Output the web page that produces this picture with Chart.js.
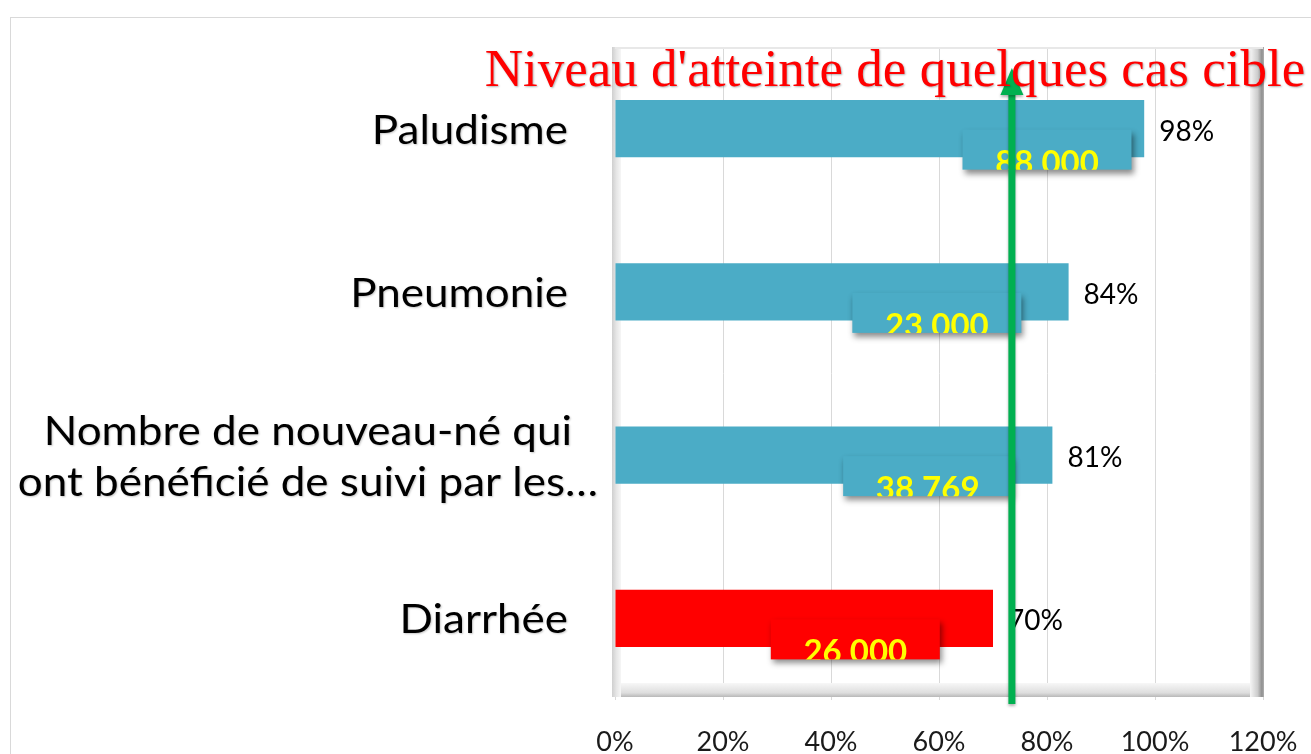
<!DOCTYPE html>
<html>
<head>
<meta charset="utf-8">
<script src="https://cdn.jsdelivr.net/npm/chart.js@4.4.1/dist/chart.umd.min.js"></script>
<style>
    html, body { margin: 0; padding: 0; background: #ffffff; }
    #wrap { width: 1311px; height: 754px; position: relative; }
</style>
</head>
<body>
<div id="wrap"><canvas id="casChart"></canvas></div>
<script>
    // Data
    const categories = [
        'Paludisme',
        'Pneumonie',
        ['Nombre de nouveau-né qui', 'ont bénéficié de suivi par les…'],
        'Diarrhée'
    ];
    const tauxAtteinte = [98, 84, 81, 70];
    const casAtteints = [88000, 23000, 38769, 26000];
    const niveauCible = 73.5;
    const axisMax = 120;
    const axisStep = 20;
    const chartTitle = "Niveau d'atteinte de quelques cas cible";

    const BLUE = '#4BACC6';
    const RED = '#FF0000';
    const GREEN = '#00B050';

    // where the count boxes sit, in axis units (box centre)
    const boxCentres = [80, 59.6, 57.9, 44.5];

    function fmtNombre(n) {
        return String(n).replace(/\B(?=(\d{3})+(?!\d))/g, ' ');
    }

    const decorPlugin = {
        id: 'decor',
        beforeDraw(chart) {
            const ctx = chart.ctx;
            ctx.save();
            ctx.fillStyle = '#ffffff';
            ctx.fillRect(0, 0, chart.width, chart.height);
            // card border
            ctx.strokeStyle = '#d9d9d9';
            ctx.lineWidth = 1;
            ctx.strokeRect(10.5, 17.5, chart.width + 20, chart.height + 20);
            ctx.restore();
        },
        beforeDatasetsDraw(chart) {
            const ctx = chart.ctx;
            const ca = chart.chartArea;
            const fb = ca.bottom - 3;
            ctx.save();
            // floor
            let g = ctx.createLinearGradient(0, fb - 14, 0, fb);
            g.addColorStop(0, '#f7f7f7');
            g.addColorStop(0.7, '#dedede');
            g.addColorStop(1, '#b8b8b8');
            ctx.fillStyle = g;
            ctx.fillRect(ca.left, fb - 14, ca.right - ca.left, 14);
            // left wall
            g = ctx.createLinearGradient(ca.left - 3, 0, ca.left + 6, 0);
            g.addColorStop(0, '#cfcfcf');
            g.addColorStop(0.5, '#e6e6e6');
            g.addColorStop(1, '#f6f6f6');
            ctx.fillStyle = g;
            ctx.fillRect(ca.left - 3, ca.top, 9, fb - ca.top);
            // right wall
            g = ctx.createLinearGradient(ca.right - 13, 0, ca.right + 1, 0);
            g.addColorStop(0, '#f6f6f6');
            g.addColorStop(0.55, '#cccccc');
            g.addColorStop(0.85, '#8f8f8f');
            g.addColorStop(1, '#b0b0b0');
            ctx.fillStyle = g;
            ctx.fillRect(ca.right - 13, ca.top, 14, fb - ca.top);
            // top edge
            ctx.fillStyle = '#e8e8e8';
            ctx.fillRect(ca.left, ca.top, ca.right - ca.left, 2);
            ctx.restore();
        },
        afterDatasetsDraw(chart) {
            const ctx = chart.ctx;
            const xScale = chart.scales.x;
            const meta = chart.getDatasetMeta(0);
            ctx.save();
            meta.data.forEach(function(bar, i) {
                // percentage label
                ctx.fillStyle = '#000000';
                ctx.font = '28px Lato';
                ctx.textAlign = 'left';
                ctx.textBaseline = 'middle';
                ctx.fillText(tauxAtteinte[i] + '%', bar.x + 15, bar.y + 3);

                // count box
                const cx = xScale.getPixelForValue(boxCentres[i]);
                const w = 169, h = 40;
                const bx = cx - w / 2, by = bar.y + 1;
                ctx.save();
                ctx.shadowColor = 'rgba(0,0,0,0.45)';
                ctx.shadowBlur = 6;
                ctx.shadowOffsetX = 2;
                ctx.shadowOffsetY = 4;
                ctx.fillStyle = tauxAtteinte[i] < niveauCible ? RED : BLUE;
                ctx.fillRect(bx, by, w, h);
                ctx.restore();

                ctx.save();
                ctx.beginPath();
                ctx.rect(bx, by, w, h);
                ctx.clip();
                ctx.fillStyle = '#FFFF00';
                ctx.font = 'bold 33px Lato';
                ctx.textAlign = 'center';
                ctx.textBaseline = 'alphabetic';
                ctx.fillText(fmtNombre(casAtteints[i]), cx, by + h + 4);
                ctx.restore();
            });
            ctx.restore();
        },
        afterDraw(chart) {
            const ctx = chart.ctx;
            const ca = chart.chartArea;
            const yScale = chart.scales.y;

            // category labels: single lines right-aligned, wrapped ones centred as a block
            // (text is slightly widened like the original)
            const sx = 1.1;
            ctx.save();
            ctx.shadowColor = 'rgba(0,0,0,0.22)';
            ctx.shadowBlur = 2;
            ctx.shadowOffsetX = 1;
            ctx.shadowOffsetY = 1;
            ctx.fillStyle = '#000000';
            ctx.font = '40px Lato';
            ctx.textBaseline = 'middle';
            const lineH = 51;
            const rightEdge = ca.left - 47;
            categories.forEach(function(lab, i) {
                const y = yScale.getPixelForTick(i);
                const lines = Array.isArray(lab) ? lab : [lab];
                if (lines.length === 1) {
                    ctx.save();
                    ctx.translate(rightEdge, y + 2);
                    ctx.scale(sx, 1);
                    ctx.textAlign = 'right';
                    ctx.fillText(lines[0], 0, 0);
                    ctx.restore();
                } else {
                    const widths = lines.map(l => ctx.measureText(l).width * sx);
                    const blockW = Math.max.apply(null, widths);
                    const centre = rightEdge + 30 - blockW / 2;
                    lines.forEach(function(l, k) {
                        const ly = y + (k - (lines.length - 1) / 2) * lineH + 2;
                        ctx.save();
                        ctx.translate(centre, ly);
                        ctx.scale(sx, 1);
                        ctx.textAlign = 'center';
                        ctx.fillText(l, 0, 0);
                        ctx.restore();
                    });
                }
            });
            ctx.restore();

            // target arrow
            const x = chart.scales.x.getPixelForValue(niveauCible);
            ctx.save();
            ctx.shadowColor = 'rgba(0,0,0,0.3)';
            ctx.shadowBlur = 3;
            ctx.shadowOffsetY = 2;
            ctx.fillStyle = GREEN;
            ctx.fillRect(x - 3.5, 92, 7, ca.bottom + 4 - 92);
            ctx.beginPath();
            ctx.moveTo(x, 68);
            ctx.lineTo(x + 11.5, 95);
            ctx.lineTo(x - 11.5, 95);
            ctx.closePath();
            ctx.fill();
            ctx.restore();

            // title
            ctx.save();
            ctx.shadowColor = 'rgba(0,0,0,0.3)';
            ctx.shadowBlur = 2;
            ctx.shadowOffsetX = 1;
            ctx.shadowOffsetY = 1;
            ctx.fillStyle = RED;
            ctx.font = '53px "Liberation Serif"';
            ctx.textAlign = 'center';
            ctx.textBaseline = 'alphabetic';
            ctx.fillText(chartTitle, 895, 86);
            ctx.restore();
        }
    };

    new Chart(document.getElementById('casChart'), {
        type: 'bar',
        data: {
            labels: categories,
            datasets: [{
                label: "Taux d'atteinte",
                data: tauxAtteinte,
                backgroundColor: tauxAtteinte.map(v => v < niveauCible ? RED : BLUE),
                borderWidth: 0,
                categoryPercentage: 1,
                barPercentage: 0.35
            }]
        },
        options: {
            indexAxis: 'y',
            responsive: true,
            maintainAspectRatio: false,
            animation: false,
            layout: {
                padding: { top: 47, right: 48, left: 0, bottom: 0 }
            },
            plugins: {
                legend: { display: false },
                tooltip: { enabled: false },
                title: { display: false }
            },
            scales: {
                x: {
                    min: 0,
                    max: axisMax,
                    border: { display: false },
                    grid: { color: '#d9d9d9', drawTicks: false },
                    ticks: {
                        stepSize: axisStep,
                        padding: 26,
                        color: '#1a1a1a',
                        font: { family: 'Lato', size: 27 },
                        callback: function(value) { return value + '%'; }
                    },
                    afterFit: function(scale) {
                        scale.height = 54;
                        scale.paddingLeft = 0;
                        scale.paddingRight = 0;
                    }
                },
                y: {
                    border: { display: false },
                    grid: { display: false, drawTicks: false },
                    ticks: { display: false },
                    afterFit: function(scale) {
                        scale.width = 615;
                        scale.paddingTop = 0;
                        scale.paddingBottom = 0;
                    }
                }
            }
        },
        plugins: [decorPlugin]
    });
</script>
</body>
</html>
